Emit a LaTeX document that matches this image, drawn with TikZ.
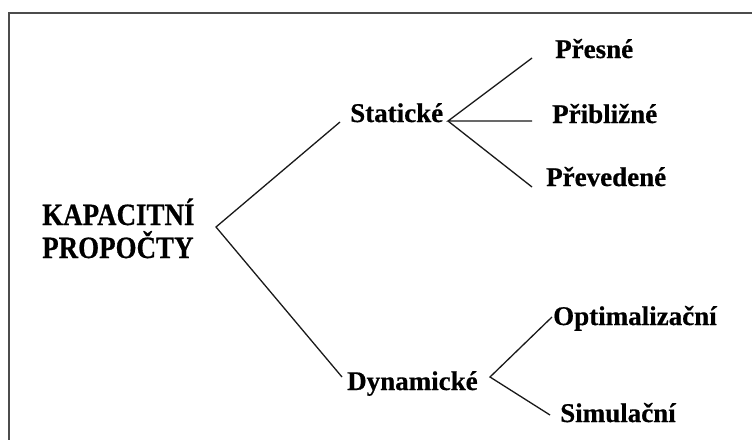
\documentclass[tikz,border=0pt]{standalone}
\usepackage{fontspec}
\setmainfont{Liberation Serif}[BoldFont={Liberation Serif Bold}]
\newfontfamily\tbf{Liberation Serif Bold}[FakeBold=0.6]
\begin{document}
\begin{tikzpicture}[x=1pt,y=-1pt,
  lbl/.style={anchor=base west,inner sep=0pt,font=\fontsize{27}{32}\selectfont\tbf},
  rootlbl/.style={anchor=base west,inner sep=0pt,font=\fontsize{31}{36}\selectfont\tbf},
  conn/.style={line width=1.3pt,black!90},
  frame/.style={line width=1.6pt,black!70}]
\useasboundingbox (0,0) rectangle (752,439);
\fill[white] (0,0) rectangle (752,439);
\draw[frame] (9,445) -- (9,13) -- (760,13);
% texts
\node[rootlbl] (kap) at (42,225) {\scalebox{0.87}[1]{KAPACITNÍ}};
\node[rootlbl] (pro) at (42,258) {\scalebox{0.87}[1]{PROPOČTY}};
\node[lbl] (stat) at (350,122) {Statické};
\node[lbl] (dyn) at (347,390) {Dynamické};
\node[lbl] (pres) at (555,58) {Přesné};
\node[lbl] (prib) at (552,123) {Přibližné};
\node[lbl] (prev) at (546,186) {Převedené};
\node[lbl] (opt) at (553,325) {Optimalizační};
\node[lbl] (sim) at (560,422) {Simulační};
% junctions
\coordinate (j0) at (216,227);
\coordinate (j1) at (448,121);
\coordinate (j2) at (490,377);
% connectors
\draw[conn] ([xshift=-10pt]stat.base west) -- (j0) -- ([xshift=-5pt,yshift=13pt]dyn.base west);
\draw[conn] ([xshift=-23pt]pres.base west) -- (j1) -- ([xshift=-20pt,yshift=2pt]prib.base west);
\draw[conn] (j1) -- ([xshift=-14pt,yshift=-1pt]prev.base west);
\draw[conn] ([xshift=-1pt,yshift=8pt]opt.base west) -- (j2) -- ([xshift=-10pt,yshift=7pt]sim.base west);
\end{tikzpicture}
\end{document}
